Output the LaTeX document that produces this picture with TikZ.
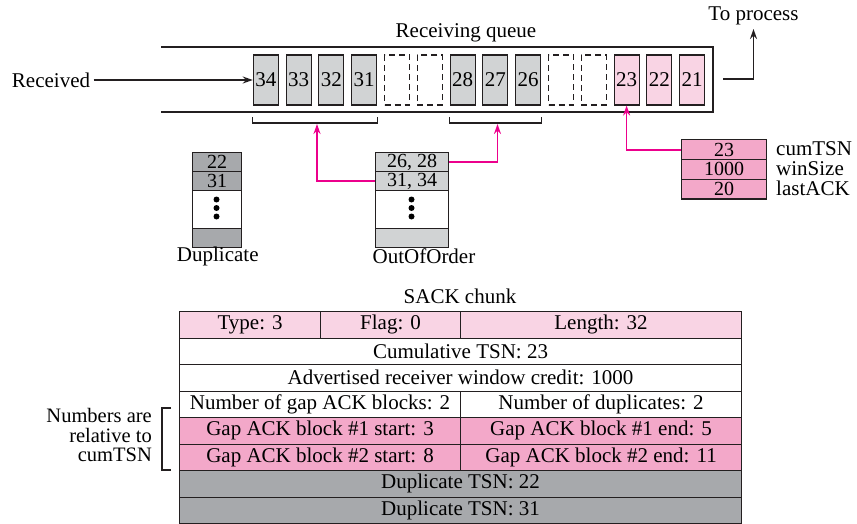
\documentclass[tikz,border=0pt]{standalone}
\usepackage{fontspec}
\setmainfont{Liberation Serif}
\usetikzlibrary{arrows.meta}
\definecolor{lpink}{HTML}{F9D4E4}
\definecolor{mpink}{HTML}{F3A8C9}
\definecolor{lgray}{HTML}{D1D3D4}
\definecolor{dgray}{HTML}{A7A9AC}
\definecolor{magenta}{HTML}{EC008C}
\definecolor{ink}{HTML}{231F20}
\begin{document}
\begin{tikzpicture}[x=1pt,y=-1pt,
  font=\fontsize{21}{22}\selectfont,
  cell/.style={draw=ink, line width=1.1pt, minimum width=25pt, minimum height=50pt, inner sep=0pt},
  gcell/.style={cell, fill=lgray},
  pcell/.style={cell, fill=lpink},
  ecell/.style={cell, dashed, dash pattern=on 6pt off 4pt},
  tab/.style={draw=ink, line width=1.1pt, minimum height=26.5pt, inner sep=0pt, anchor=north west},
  stack/.style={draw=ink, line width=1.1pt, inner sep=0pt, anchor=north west, font=\fontsize{20}{20}\selectfont},
  arr/.style={ink, line width=1.4pt, -{Stealth[length=10pt,width=7pt]}},
  parr/.style={magenta, line width=1.7pt, -{Stealth[length=10pt,width=7pt]}},
  lbl/.style={inner sep=0pt}]
\useasboundingbox (0,0) rectangle (857,524);

% queue
\node[lbl] (rq) at (466,33) {Receiving queue};
\draw[ink, line width=1.8pt] (161,47) -- (713,47) -- (713,112) -- (161,112);
\node[gcell] (c0) at (265.8,80) {34};
\node[gcell] (c1) at (298.6,80) {33};
\node[gcell] (c2) at (331.4,80) {32};
\node[gcell] (c3) at (364.2,80) {31};
\node[ecell] (c4) at (397.0,80) {};
\node[ecell] (c5) at (429.8,80) {};
\node[gcell] (c6) at (462.6,80) {28};
\node[gcell] (c7) at (495.4,80) {27};
\node[gcell] (c8) at (528.2,80) {26};
\node[ecell] (c9) at (561.0,80) {};
\node[ecell] (c10) at (593.8,80) {};
\node[pcell] (c11) at (626.6,80) {23};
\node[pcell] (c12) at (659.4,80) {22};
\node[pcell] (c13) at (692.2,80) {21};

\node (recv) at (51,80) {Received};
\draw[arr] (recv.east) -- (c0.west);

\node[lbl] (proc) at (753.5,16) {To process};
\coordinate (tp0) at (723,79);
\coordinate (tpTop) at (753.5,29);
\draw[arr] (tp0) -| (tpTop);

% brackets
\draw[ink, line width=1.4pt] (c0.west |- 0,117) -- (c0.west |- 0,123) -- (c3.east |- 0,123) -- (c3.east |- 0,117);
\draw[ink, line width=1.4pt] (c6.west |- 0,117) -- (c6.west |- 0,123) -- (c8.east |- 0,123) -- (c8.east |- 0,117);
\coordinate (br1) at (317,124);
\coordinate (br2) at (497.5,124);

% Duplicate stack
\node[stack, fill=dgray, minimum width=49pt, minimum height=19pt] (d1) at (192,152) {22};
\node[stack, fill=dgray, minimum width=49pt, minimum height=19pt] (d2) at (192,171) {31};
\node[stack, fill=white, minimum width=49pt, minimum height=38pt] (d3) at (192,190) {};
\node[stack, fill=dgray, minimum width=49pt, minimum height=19pt] (d4) at (192,228) {};
\fill[black] (216.5,199.5) circle (3pt) (216.5,208) circle (3pt) (216.5,216.5) circle (3pt);
\node[lbl] (dlab) at (217.8,256) {Duplicate};

% OutOfOrder stack
\node[stack, fill=lgray, minimum width=73pt, minimum height=19pt] (o1) at (375,152) {26, 28};
\node[stack, fill=lgray, minimum width=73pt, minimum height=19pt] (o2) at (375,171) {31, 34};
\node[stack, fill=white, minimum width=73pt, minimum height=38pt] (o3) at (375,190) {};
\node[stack, fill=lgray, minimum width=73pt, minimum height=19pt] (o4) at (375,228) {};
\fill[black] (411.5,199.5) circle (3pt) (411.5,208) circle (3pt) (411.5,216.5) circle (3pt);
\node[lbl] (olab) at (424,256) {OutOfOrder};

\draw[parr] (o2.west) -| (br1);
\draw[parr] (o1.east) -| (br2);

% cumTSN box
\node[stack, fill=mpink, minimum width=85pt, minimum height=19.7pt] (k1) at (681,139.3) {23};
\node[stack, fill=mpink, minimum width=85pt, minimum height=19.7pt] (k2) at (681,159) {1000};
\node[stack, fill=mpink, minimum width=85pt, minimum height=19.7pt] (k3) at (681,178.7) {20};
\node[lbl, anchor=west] (kl1) at (776,149) {cumTSN};
\node[lbl, anchor=west] (kl2) at (776,168.5) {winSize};
\node[lbl, anchor=west] (kl3) at (776,188) {lastACK};
\draw[parr] (k1.west) -| (c11.south);

% SACK chunk table
\node[lbl] (sack) at (460,296) {SACK chunk};
\node[tab, fill=lpink, minimum width=141pt] (r1a) at (179,311) {Type: 3};
\node[tab, fill=lpink, minimum width=140pt] (r1b) at (320,311) {Flag: 0};
\node[tab, fill=lpink, minimum width=281pt] (r1c) at (460,311) {Length: 32};
\node[tab, fill=white, minimum width=562pt] (r2) at (179,337.5) {Cumulative TSN: 23};
\node[tab, fill=white, minimum width=562pt] (r3) at (179,364) {Advertised receiver window credit: 1000};
\node[tab, fill=white, minimum width=281pt] (r4a) at (179,390.5) {Number of gap ACK blocks: 2};
\node[tab, fill=white, minimum width=281pt] (r4b) at (460,390.5) {Number of duplicates: 2};
\node[tab, fill=mpink, minimum width=281pt] (r5a) at (179,417) {Gap ACK block \#1 start: 3};
\node[tab, fill=mpink, minimum width=281pt] (r5b) at (460,417) {Gap ACK block \#1 end: 5};
\node[tab, fill=mpink, minimum width=281pt] (r6a) at (179,443.5) {Gap ACK block \#2 start: 8};
\node[tab, fill=mpink, minimum width=281pt] (r6b) at (460,443.5) {Gap ACK block \#2 end: 11};
\node[tab, fill=dgray, minimum width=562pt] (r7) at (179,470) {Duplicate TSN: 22};
\node[tab, fill=dgray, minimum width=562pt] (r8) at (179,496.5) {Duplicate TSN: 31};

% note
\node[lbl, anchor=east, align=right, font=\fontsize{20.5}{19.5}\selectfont] (note) at (152,435) {Numbers are\\relative to\\cumTSN};
\draw[ink, line width=1.3pt] (171,408) -- (162,408) -- (162,470) -- (171,470);
\end{tikzpicture}
\end{document}
